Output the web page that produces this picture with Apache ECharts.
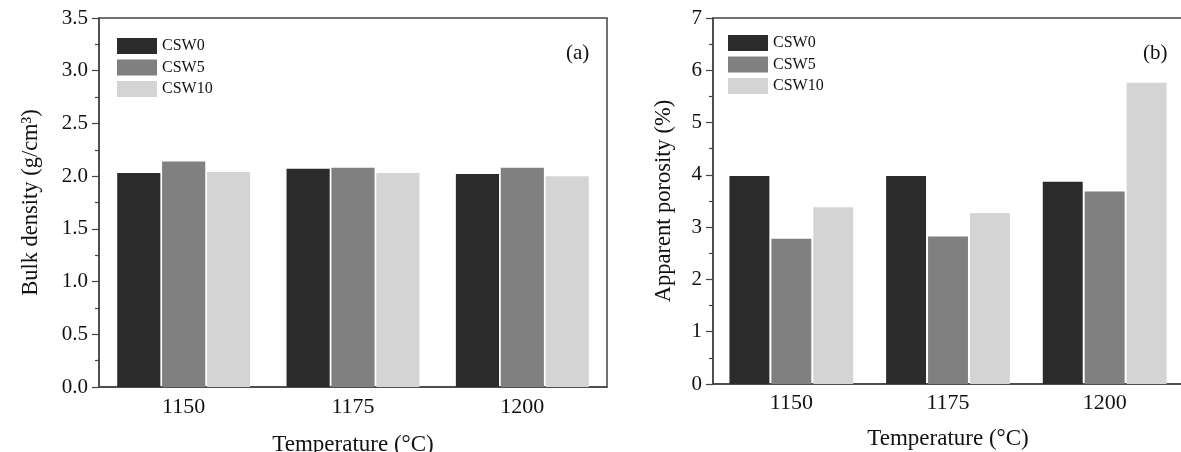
<!DOCTYPE html>
<html>
<head>
<meta charset="utf-8">
<title>Bulk density and apparent porosity</title>
<script src="https://cdn.jsdelivr.net/npm/echarts@6/dist/echarts.min.js"></script>
<style>
  html, body { margin: 0; padding: 0; background: #fff; }
  #chart { width: 1181px; height: 452px; }
</style>
</head>
<body>
<div id="chart"></div>
<script>
const categories = ["1150", "1175", "1200"];
const sampleNames = ["CSW0", "CSW5", "CSW10"];
const sampleColors = ["#2b2b2b", "#808080", "#d4d4d4"];

// bulk density, g/cm3
const densityCSW0 = [2.03, 2.07, 2.02];
const densityCSW5 = [2.14, 2.08, 2.08];
const densityCSW10 = [2.04, 2.03, 2.0];

// apparent porosity, %
const porosityCSW0 = [3.98, 3.98, 3.87];
const porosityCSW5 = [2.78, 2.82, 3.68];
const porosityCSW10 = [3.38, 3.27, 5.76];

const densityTicks = { min: 0, max: 3.5, interval: 0.5 };
const porosityTicks = { min: 0, max: 7, interval: 1 };

const font = "Liberation Serif";
const axisColor = "#444";

function valueAxis(gridIndex, ticks, name, nameGap, digits) {
  return {
    type: "value",
    gridIndex: gridIndex,
    min: ticks.min,
    max: ticks.max,
    interval: ticks.interval,
    name: name,
    nameLocation: "middle",
    nameGap: nameGap,
    nameTextStyle: { fontFamily: font, fontSize: 22.5, color: "#111" },
    axisLine: { show: true, lineStyle: { color: axisColor, width: 1.5 } },
    axisTick: { show: true, inside: false, length: 7, lineStyle: { color: axisColor, width: 1.2 } },
    minorTick: { show: true, splitNumber: 2, length: 4, lineStyle: { color: axisColor, width: 1.2 } },
    splitLine: { show: false },
    minorSplitLine: { show: false },
    axisLabel: {
      margin: 11,
      fontFamily: font,
      fontSize: 21,
      color: "#111",
      formatter: (v) => v.toFixed(digits)
    }
  };
}

function categoryAxis(gridIndex, nameGap, labelMargin) {
  return {
    type: "category",
    gridIndex: gridIndex,
    data: categories,
    name: "Temperature (°C)",
    nameLocation: "middle",
    nameGap: nameGap,
    nameTextStyle: { fontFamily: font, fontSize: 23, color: "#111" },
    axisLine: { show: true, lineStyle: { color: axisColor, width: 1.5 } },
    axisTick: { show: false },
    axisLabel: { margin: labelMargin, fontFamily: font, fontSize: 22, color: "#111" }
  };
}

function barSeries(name, color, data, axisIndex, catGap, barGap) {
  return {
    name: name,
    type: "bar",
    xAxisIndex: axisIndex,
    yAxisIndex: axisIndex,
    data: data,
    barGap: barGap,
    barCategoryGap: catGap,
    itemStyle: { color: color },
    emphasis: { disabled: true }
  };
}

function legendAt(left, top) {
  return {
    orient: "vertical",
    left: left,
    top: top,
    padding: 0,
    data: sampleNames,
    icon: "rect",
    itemWidth: 40,
    itemHeight: 16,
    itemGap: 5.5,
    selectedMode: false,
    textStyle: { fontFamily: font, fontSize: 16, color: "#111", lineHeight: 16 }
  };
}

const chart = echarts.init(document.getElementById("chart"), null, { renderer: "canvas" });

const option = {
  backgroundColor: "#fff",
  animation: false,
  color: sampleColors,
  title: [
    { text: "(a)", left: 566, top: 43, padding: 0, textStyle: { fontFamily: font, fontSize: 21, fontWeight: "normal", color: "#111" } },
    { text: "(b)", left: 1143, top: 43, padding: 0, textStyle: { fontFamily: font, fontSize: 21, fontWeight: "normal", color: "#111" } }
  ],
  legend: [legendAt(117, 38), legendAt(728, 35)],
  grid: [
    { left: 99, top: 18, width: 508, height: 369, outerBoundsMode: "none", containLabel: false, show: true, borderColor: axisColor, borderWidth: 1.5, backgroundColor: "transparent" },
    { left: 713, top: 18, width: 470, height: 366, outerBoundsMode: "none", containLabel: false, show: true, borderColor: axisColor, borderWidth: 1.5, backgroundColor: "transparent" }
  ],
  xAxis: [categoryAxis(0, 46, 9), categoryAxis(1, 43, 8)],
  yAxis: [
    valueAxis(0, densityTicks, "Bulk density (g/cm³)", 56, 1),
    valueAxis(1, porosityTicks, "Apparent porosity (%)", 37, 0)
  ],
  series: [
    barSeries("CSW0", sampleColors[0], densityCSW0, 0, "21.5%", "4%"),
    barSeries("CSW5", sampleColors[1], densityCSW5, 0, "21.5%", "4%"),
    barSeries("CSW10", sampleColors[2], densityCSW10, 0, "21.5%", "4%"),
    barSeries("CSW0", sampleColors[0], porosityCSW0, 1, "21%", "5%"),
    barSeries("CSW5", sampleColors[1], porosityCSW5, 1, "21%", "5%"),
    barSeries("CSW10", sampleColors[2], porosityCSW10, 1, "21%", "5%")
  ]
};

chart.setOption(option);
</script>
</body>
</html>
